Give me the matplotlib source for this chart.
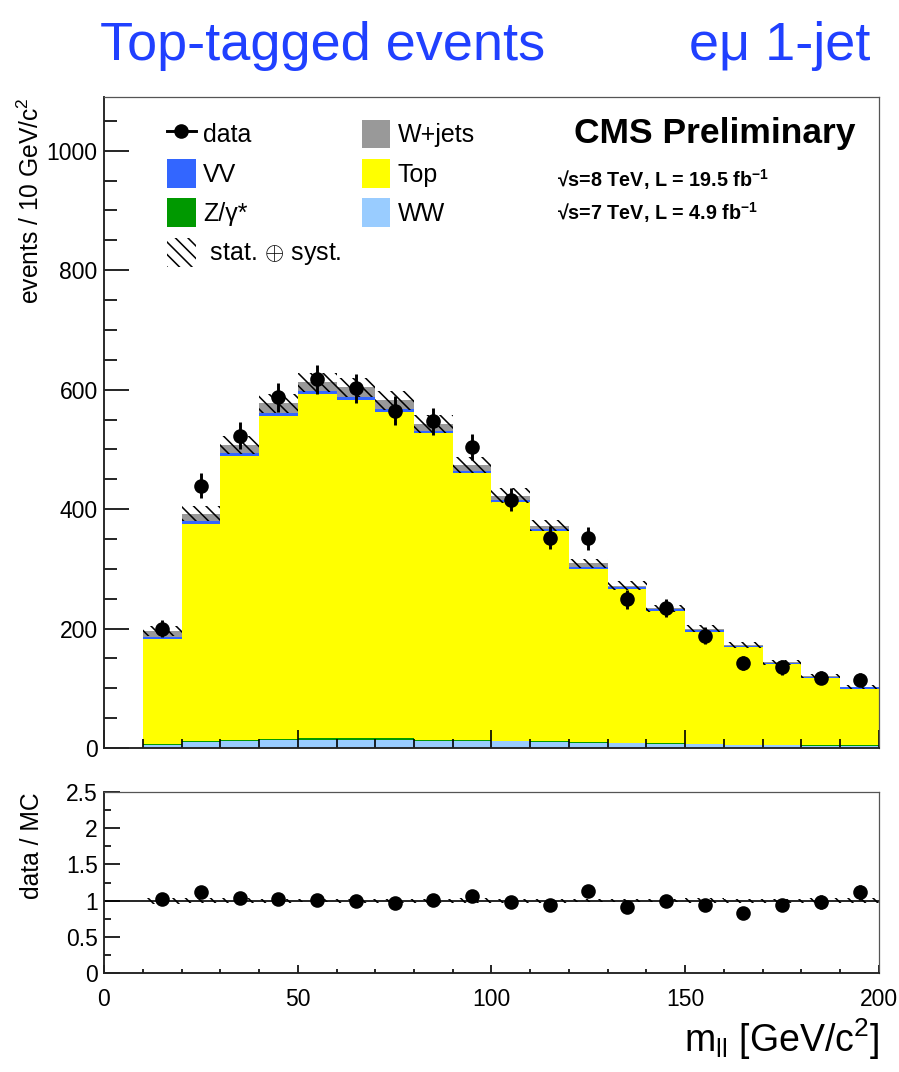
import numpy as np
import matplotlib
matplotlib.use('Agg')
import matplotlib.pyplot as plt
from matplotlib.lines import Line2D
from matplotlib.patches import Patch
from matplotlib.ticker import MultipleLocator, FormatStrFormatter

plt.rcParams['font.family'] = ['Liberation Sans', 'DejaVu Sans']
plt.rcParams['mathtext.fontset'] = 'custom'
plt.rcParams['mathtext.rm'] = 'Liberation Sans'
plt.rcParams['mathtext.it'] = 'Liberation Sans:italic'
plt.rcParams['mathtext.bf'] = 'Liberation Sans:bold'
plt.rcParams['hatch.linewidth'] = 0.75

# m_ll bins, 10 GeV wide from 10 to 200
edges = np.arange(10, 201, 10)
centers = edges[:-1] + 5

# stacked MC, bottom to top
ww = [5, 10, 12, 13, 14, 14, 13, 12, 12, 11, 10, 9, 8, 7, 6, 5, 5, 4, 4]
zgamma = [1, 1.5, 2, 2, 3, 3, 3, 2, 2, 1.5, 1.5, 1, 1, 1, 1, 0.5, 0.5, 0.5, 0.5]
top = [176, 364, 475, 541, 575, 565, 546, 513, 446, 399, 352, 290, 257, 221, 188, 164, 135, 113, 95]
vv = [4, 5, 5, 5, 5, 5, 5, 4, 4, 4, 4, 3, 3, 3, 3, 2, 2, 2, 2]
wjets = [10, 12, 14, 16, 15, 17, 15, 12, 10, 7, 5, 6, 3, 2, 2, 1, 1, 1, 1]

# stat+syst uncertainty on total MC
mc_unc = [8, 13, 15, 16, 16, 16, 16, 15, 14, 12, 10, 8, 7, 6, 6, 5, 4, 4, 3]

data = [200, 439, 523, 587, 617, 602, 565, 547, 504, 416, 352, 351, 249, 234, 188, 142, 135, 118, 114]
data_err = [14, 21, 23, 24, 25, 25, 24, 23, 22, 20, 19, 19, 16, 15, 14, 12, 12, 11, 11]

layers = [
    (ww, '#99ccff'),
    (zgamma, '#009900'),
    (top, '#ffff00'),
    (vv, '#3366ff'),
    (wjets, '#999999'),
]

HATCH = '\\\\\\\\'

W, H, DPI = 899, 1072, 150
fig = plt.figure(figsize=(W / DPI, H / DPI), dpi=DPI)
ax = fig.add_axes([104 / W, 1 - 748 / H, 775 / W, 651 / H])
rax = fig.add_axes([104 / W, 1 - 973 / H, 775 / W, 181 / H])

# stack
base = np.zeros(len(centers))
for vals, col in layers:
    vals = np.asarray(vals, float)
    ax.stairs(base + vals, edges, baseline=base, fill=True, color=col, lw=0, zorder=1)
    base = base + vals
total = base
unc = np.asarray(mc_unc, float)

ax.bar(centers, 2 * unc, bottom=total - unc, width=10, facecolor='none',
       edgecolor='k', linewidth=0, hatch=HATCH, zorder=2)
ax.errorbar(centers, data, yerr=data_err, fmt='o', color='k', ms=6,
            elinewidth=1.4, capsize=0, zorder=3)

ax.set_xlim(0, 200)
ax.set_ylim(0, 1090)
ax.xaxis.set_major_locator(MultipleLocator(50))
ax.xaxis.set_minor_locator(MultipleLocator(10))
ax.yaxis.set_major_locator(MultipleLocator(200))
ax.yaxis.set_minor_locator(MultipleLocator(50))
ax.tick_params(axis='x', which='both', direction='in', labelbottom=False)
ax.tick_params(axis='x', which='major', length=8.5, width=0.8)
ax.tick_params(axis='x', which='minor', length=4.3, width=0.8)
ax.tick_params(axis='y', which='major', direction='in', length=12, width=0.8,
               labelsize=11, pad=3)
ax.tick_params(axis='y', which='minor', direction='in', length=6, width=0.8)
ax.set_ylabel('events / 10 GeV/c$^2$', fontsize=11.8, loc='top')
ax.yaxis.set_label_coords(-0.077, 1.0)

# ratio panel
ratio = np.asarray(data, float) / total
ratio_err = np.asarray(data_err, float) / total
rel = unc / total
rax.bar(centers, 2 * rel, bottom=1 - rel, width=10, facecolor='none',
        edgecolor='k', linewidth=0, hatch=HATCH, zorder=1)
rax.axhline(1, color='k', lw=0.8, zorder=2)
rax.errorbar(centers, ratio, yerr=ratio_err, fmt='o', color='k', ms=6,
             elinewidth=1.4, capsize=0, zorder=3)
rax.set_xlim(0, 200)
rax.set_ylim(0, 2.5)
rax.xaxis.set_major_locator(MultipleLocator(50))
rax.xaxis.set_minor_locator(MultipleLocator(10))
rax.yaxis.set_major_locator(MultipleLocator(0.5))
rax.yaxis.set_minor_locator(MultipleLocator(0.25))
rax.yaxis.set_major_formatter(FormatStrFormatter('%g'))
rax.tick_params(axis='x', which='major', direction='in', length=4, width=0.8,
                labelsize=11, pad=7)
rax.tick_params(axis='x', which='minor', direction='in', length=2, width=0.8)
rax.tick_params(axis='y', which='major', direction='in', length=7.5, width=0.8,
                labelsize=11, pad=3)
rax.tick_params(axis='y', which='minor', direction='in', length=3.5, width=0.8)
rax.set_ylabel('data / MC', fontsize=11.8, loc='top')
rax.yaxis.set_label_coords(-0.077, 1.0)
rax.set_xlabel('m$_{\\mathrm{ll}}$ [GeV/c$^2$]', fontsize=18, loc='right')
rax.xaxis.set_label_coords(1.0, -0.24)

for a in (ax, rax):
    for side in ('left', 'bottom'):
        a.spines[side].set_linewidth(0.9)
        a.spines[side].set_color('#222222')
    for side in ('top', 'right'):
        a.spines[side].set_linewidth(0.6)
        a.spines[side].set_color('#555555')

# legend, two columns as in ROOT
handles = [
    Line2D([], [], color='k', marker='o', ms=6, lw=1.4),
    Patch(facecolor='#3366ff', lw=0),
    Patch(facecolor='#009900', lw=0),
    Patch(facecolor='none', edgecolor='k', lw=0, hatch=HATCH),
    Patch(facecolor='#999999', lw=0),
    Patch(facecolor='#ffff00', lw=0),
    Patch(facecolor='#99ccff', lw=0),
]
labels = ['data', 'VV', 'Z/γ*', ' stat. $\\oplus$ syst.', 'W+jets', 'Top', 'WW']
ax.legend(handles, labels, ncol=2, loc='upper left', bbox_to_anchor=(0.052, 1.0),
          frameon=False, fontsize=12, handlelength=1.15, handleheight=1.4,
          handletextpad=0.3, labelspacing=0.42, columnspacing=0.8)

ax.text(0.97, 0.97, 'CMS Preliminary', transform=ax.transAxes, ha='right', va='top',
        fontsize=17, fontweight='bold')
ax.text(0.585, 0.873, '√s=8 TeV, L = 19.5 fb$^{\\mathbf{-1}}$', transform=ax.transAxes,
        ha='left', va='center', fontsize=9.5, fontweight='bold')
ax.text(0.585, 0.822, '√s=7 TeV, L = 4.9 fb$^{\\mathbf{-1}}$', transform=ax.transAxes,
        ha='left', va='center', fontsize=9.5, fontweight='bold')

fig.text(100 / W, 1 - 60 / H, 'Top-tagged events', color='#2040ff', fontsize=26,
         ha='left', va='baseline')
fig.text(870 / W, 1 - 60 / H, 'eμ 1-jet', color='#2040ff', fontsize=26,
         ha='right', va='baseline')

fig.savefig('out.png', dpi=DPI)
